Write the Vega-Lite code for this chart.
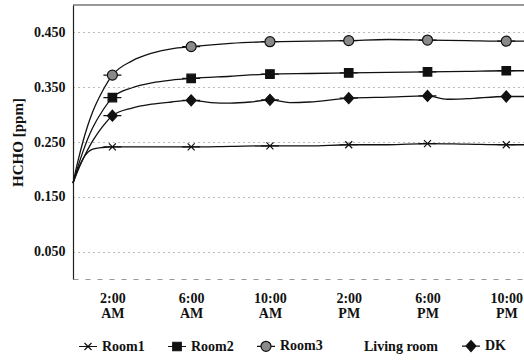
{
  "$schema": "https://vega.github.io/schema/vega-lite/v6.json",
  "autosize": {"type": "none"},
  "padding": {"left": 73, "top": 5, "right": 0, "bottom": 84},
  "width": 451,
  "height": 274,
  "config": {
    "font": "Liberation Serif",
    "view": {"stroke": null},
    "axis": {
      "labelFont": "Liberation Serif",
      "labelFontWeight": "bold",
      "labelFontSize": 14,
      "labelColor": "#111",
      "titleFont": "Liberation Serif",
      "titleFontWeight": "bold",
      "titleColor": "#111"
    },
    "legend": {
      "labelFont": "Liberation Serif",
      "labelFontWeight": "bold",
      "labelFontSize": 14,
      "labelColor": "#111"
    }
  },
  "datasets": {
    "hcho": [
      {"series": "Room1", "t": 0, "ppm": 0.175},
      {"series": "Room1", "t": 0.25, "ppm": 0.2},
      {"series": "Room1", "t": 0.5, "ppm": 0.219},
      {"series": "Room1", "t": 0.75, "ppm": 0.231},
      {"series": "Room1", "t": 1, "ppm": 0.237},
      {"series": "Room1", "t": 1.5, "ppm": 0.24},
      {"series": "Room1", "t": 2, "ppm": 0.241},
      {"series": "Room1", "t": 4, "ppm": 0.241},
      {"series": "Room1", "t": 6, "ppm": 0.241},
      {"series": "Room1", "t": 8, "ppm": 0.242},
      {"series": "Room1", "t": 10, "ppm": 0.243},
      {"series": "Room1", "t": 12, "ppm": 0.243},
      {"series": "Room1", "t": 14, "ppm": 0.245},
      {"series": "Room1", "t": 16, "ppm": 0.245},
      {"series": "Room1", "t": 18, "ppm": 0.247},
      {"series": "Room1", "t": 20, "ppm": 0.246},
      {"series": "Room1", "t": 22, "ppm": 0.245},
      {"series": "Room1", "t": 22.9, "ppm": 0.245},
      {"series": "Room2", "t": 0, "ppm": 0.175},
      {"series": "Room2", "t": 0.25, "ppm": 0.205},
      {"series": "Room2", "t": 0.5, "ppm": 0.232},
      {"series": "Room2", "t": 0.75, "ppm": 0.256},
      {"series": "Room2", "t": 1, "ppm": 0.276},
      {"series": "Room2", "t": 1.5, "ppm": 0.307},
      {"series": "Room2", "t": 2, "ppm": 0.331},
      {"series": "Room2", "t": 3, "ppm": 0.349},
      {"series": "Room2", "t": 4, "ppm": 0.358},
      {"series": "Room2", "t": 5, "ppm": 0.363},
      {"series": "Room2", "t": 6, "ppm": 0.366},
      {"series": "Room2", "t": 8, "ppm": 0.37},
      {"series": "Room2", "t": 10, "ppm": 0.374},
      {"series": "Room2", "t": 12, "ppm": 0.375},
      {"series": "Room2", "t": 14, "ppm": 0.376},
      {"series": "Room2", "t": 16, "ppm": 0.377},
      {"series": "Room2", "t": 18, "ppm": 0.378},
      {"series": "Room2", "t": 20, "ppm": 0.379},
      {"series": "Room2", "t": 22, "ppm": 0.38},
      {"series": "Room2", "t": 22.9, "ppm": 0.38},
      {"series": "Room3", "t": 0, "ppm": 0.175},
      {"series": "Room3", "t": 0.25, "ppm": 0.215},
      {"series": "Room3", "t": 0.5, "ppm": 0.25},
      {"series": "Room3", "t": 0.75, "ppm": 0.28},
      {"series": "Room3", "t": 1, "ppm": 0.305},
      {"series": "Room3", "t": 1.5, "ppm": 0.343},
      {"series": "Room3", "t": 2, "ppm": 0.372},
      {"series": "Room3", "t": 3, "ppm": 0.398},
      {"series": "Room3", "t": 4, "ppm": 0.412},
      {"series": "Room3", "t": 5, "ppm": 0.42},
      {"series": "Room3", "t": 6, "ppm": 0.424},
      {"series": "Room3", "t": 8, "ppm": 0.43},
      {"series": "Room3", "t": 10, "ppm": 0.433},
      {"series": "Room3", "t": 12, "ppm": 0.434},
      {"series": "Room3", "t": 14, "ppm": 0.435},
      {"series": "Room3", "t": 16, "ppm": 0.437},
      {"series": "Room3", "t": 18, "ppm": 0.436},
      {"series": "Room3", "t": 20, "ppm": 0.435},
      {"series": "Room3", "t": 22, "ppm": 0.434},
      {"series": "Room3", "t": 22.9, "ppm": 0.434},
      {"series": "DK", "t": 0, "ppm": 0.175},
      {"series": "DK", "t": 0.25, "ppm": 0.198},
      {"series": "DK", "t": 0.5, "ppm": 0.218},
      {"series": "DK", "t": 0.75, "ppm": 0.236},
      {"series": "DK", "t": 1, "ppm": 0.252},
      {"series": "DK", "t": 1.5, "ppm": 0.278},
      {"series": "DK", "t": 2, "ppm": 0.298},
      {"series": "DK", "t": 3, "ppm": 0.312},
      {"series": "DK", "t": 4, "ppm": 0.319},
      {"series": "DK", "t": 5, "ppm": 0.323},
      {"series": "DK", "t": 6, "ppm": 0.326},
      {"series": "DK", "t": 7, "ppm": 0.322},
      {"series": "DK", "t": 8, "ppm": 0.321},
      {"series": "DK", "t": 9, "ppm": 0.323},
      {"series": "DK", "t": 10, "ppm": 0.327},
      {"series": "DK", "t": 11, "ppm": 0.322},
      {"series": "DK", "t": 12, "ppm": 0.323},
      {"series": "DK", "t": 14, "ppm": 0.33},
      {"series": "DK", "t": 16, "ppm": 0.332},
      {"series": "DK", "t": 18, "ppm": 0.334},
      {"series": "DK", "t": 19, "ppm": 0.328},
      {"series": "DK", "t": 20, "ppm": 0.329},
      {"series": "DK", "t": 22, "ppm": 0.333},
      {"series": "DK", "t": 22.9, "ppm": 0.333}
    ],
    "frame": [{"level": 0.5}]
  },
  "layer": [
    {
      "data": {"name": "frame"},
      "mark": {"type": "rule", "color": "#333", "strokeWidth": 1.2},
      "encoding": {
        "y": {"field": "level", "type": "quantitative", "scale": {"domain": [0, 0.5]}}
      }
    },
    {
      "data": {"name": "hcho"},
      "mark": {"type": "line", "interpolate": "monotone", "color": "#111", "strokeWidth": 1.3},
      "encoding": {
        "x": {
          "field": "t",
          "type": "quantitative",
          "scale": {"domain": [0, 22.9], "nice": false, "zero": false},
          "axis": {
            "title": null,
            "values": [2, 6, 10, 14, 18, 22],
            "labelExpr": "[(datum.value % 12 == 0 ? 12 : datum.value % 12) + ':00', datum.value < 12 ? 'AM' : 'PM']",
            "labelLineHeight": 15,
            "labelPadding": 12,
            "grid": false,
            "ticks": false,
            "domainColor": "#999",
            "domainDash": [5, 7]
          }
        },
        "y": {
          "field": "ppm",
          "type": "quantitative",
          "scale": {"domain": [0, 0.5], "nice": false},
          "axis": {
            "title": "HCHO  [ppm]",
            "titleFontSize": 15,
            "titlePadding": 8,
            "values": [0.05, 0.1, 0.15, 0.2, 0.25, 0.3, 0.35, 0.4, 0.45],
            "labelExpr": "round(datum.value * 20) % 2 == 1 ? format(datum.value, '.3f') : ''",
            "labelPadding": 8,
            "ticks": false,
            "domainColor": "#222",
            "domainWidth": 1.2,
            "grid": true,
            "gridColor": "#777",
            "gridDash": [1, 4],
            "gridWidth": 1
          }
        },
        "detail": {"field": "series"}
      }
    },
    {
      "data": {"name": "hcho"},
      "transform": [{"filter": {"field": "t", "oneOf": [2, 6, 10, 14, 18, 22]}}],
      "mark": {"type": "point", "filled": true, "opacity": 1, "stroke": "#111", "strokeWidth": 1.2, "size": 100},
      "encoding": {
        "x": {"field": "t", "type": "quantitative"},
        "y": {"field": "ppm", "type": "quantitative"},
        "shape": {
          "field": "series",
          "type": "nominal",
          "title": null,
          "scale": {
            "domain": ["Room1", "Room2", "Room3", "Living room", "DK"],
            "range": [
              "M-0.7,-0.7L0.7,0.7M-0.7,0.7L0.7,-0.7M-1.8,0H1.8",
              "M-0.85,-0.85H0.85V0.85H-0.85ZM-1.8,0H1.8",
              "M-1,0A1,1,0,1,0,1,0A1,1,0,1,0,-1,0ZM-1.8,0H-1M1,0H1.8",
              "M0,0",
              "M0,-1.1L1,0L0,1.1L-1,0ZM-1.8,0H1.8"
            ]
          },
          "legend": {
            "orient": "none",
            "legendX": 8,
            "legendY": 334,
            "direction": "horizontal",
            "columns": 5,
            "columnPadding": 20,
            "labelOffset": 7,
            "symbolStrokeWidth": 1.2
          }
        },
        "fill": {
          "field": "series",
          "type": "nominal",
          "title": null,
          "scale": {
            "domain": ["Room1", "Room2", "Room3", "Living room", "DK"],
            "range": ["transparent", "#111", "#8a8a8a", "transparent", "#111"]
          }
        }
      }
    }
  ]
}
